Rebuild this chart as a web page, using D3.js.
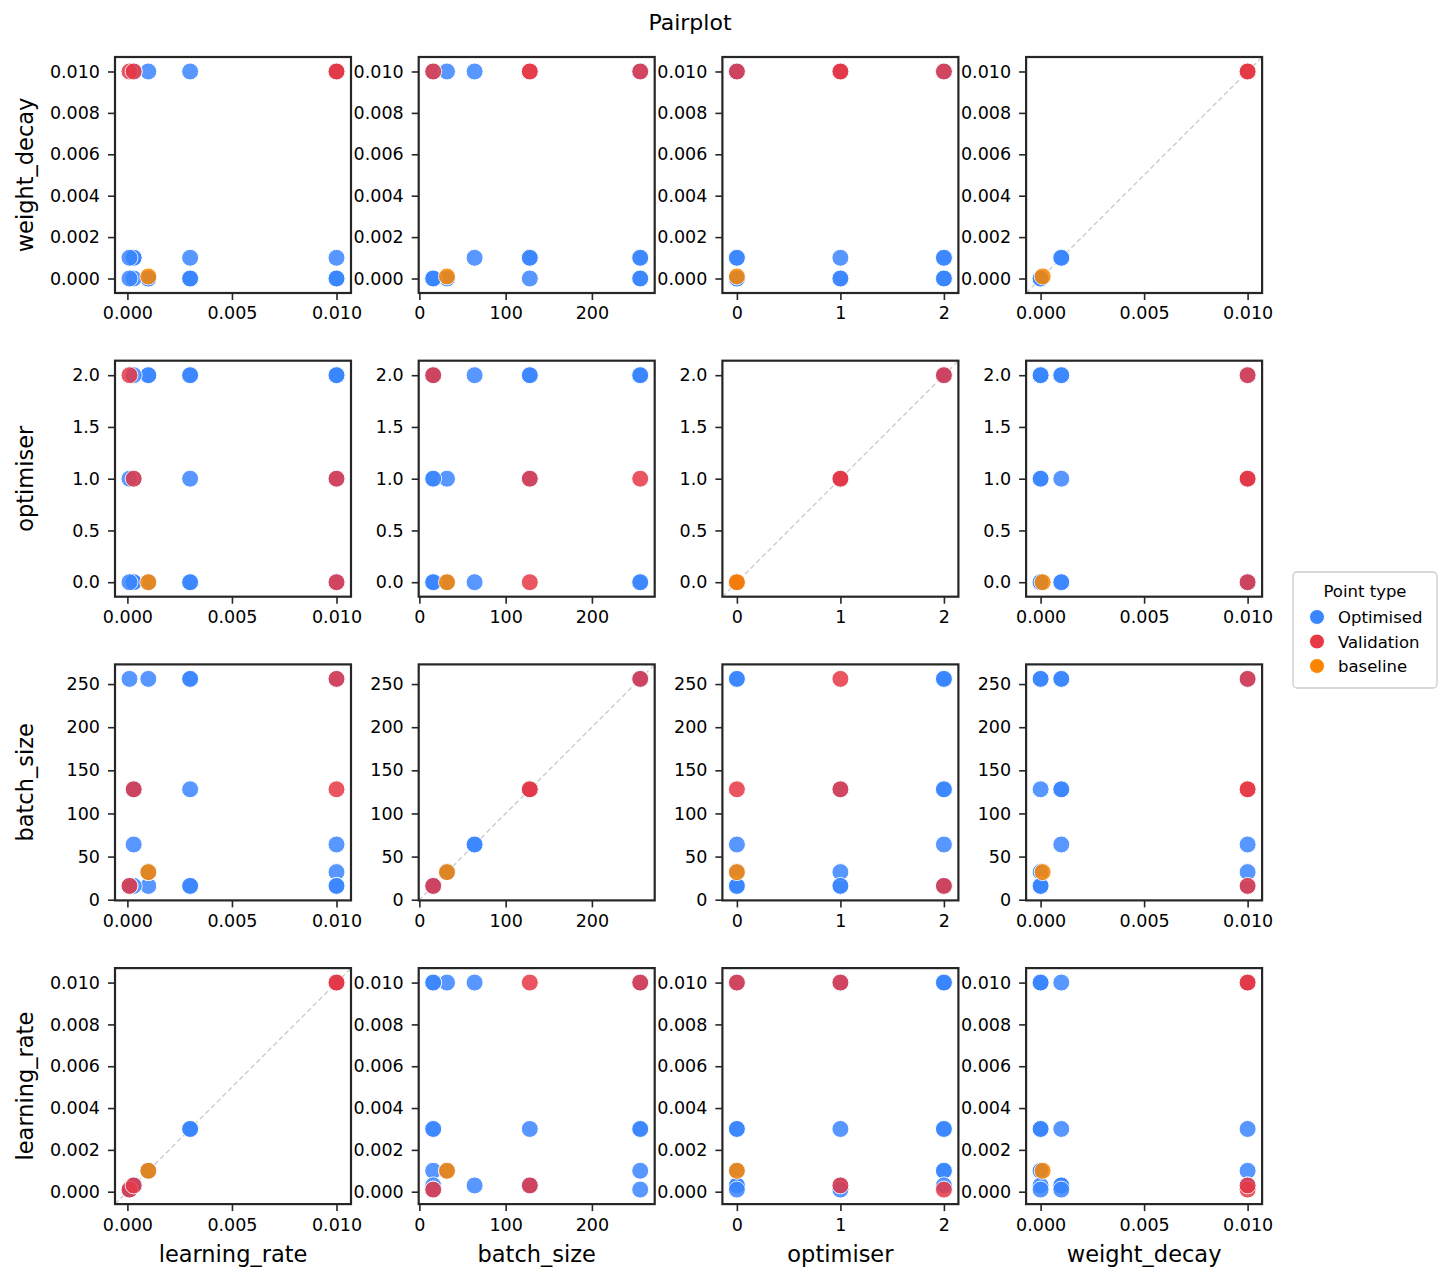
<!DOCTYPE html>
<html>
<head>
<meta charset="utf-8">
<script src="https://cdn.jsdelivr.net/npm/d3@7"></script>
<style>
  body { margin: 0; background: #fff; }
  text { font-family: "DejaVu Sans", sans-serif; fill: #000; }
</style>
</head>
<body>
<div id="chart"></div>
<script>
// columns (x) and rows (y) of the pairplot
var varsX = ["learning_rate", "batch_size", "optimiser", "weight_decay"];
var varsY = ["weight_decay", "optimiser", "batch_size", "learning_rate"];

var pointTypes = ["Optimised", "Validation", "baseline"];
var typeColors = ["#3a86ff", "#e63946", "#fb8500"];

// one entry per run (drawn in this order)
var learningRate = [0.003, 0.003, 0.0003, 0.003, 0.01, 0.01, 0.01, 0.001, 0.001, 0.001, 0.0003, 0.0003, 0.0003, 0.0001, 0.0001, 0.01, 0.01, 0.003, 0.003,
                    0.01, 0.01, 0.0001, 0.0003,
                    0.001];
var batchSize    = [128, 256, 128, 16, 64, 32, 16, 256, 16, 32, 64, 128, 16, 256, 16, 256, 16, 16, 256,
                    256, 128, 16, 128,
                    32];
var optimiser    = [2, 0, 1, 1, 2, 1, 0, 2, 2, 0, 0, 2, 0, 0, 1, 2, 2, 0, 2,
                    1, 0, 2, 1,
                    0];
var weightDecay  = [0, 0.001, 0.001, 0.01, 0.001, 0, 0, 0, 0, 0.01, 0.01, 0.001, 0, 0.001, 0, 0.01, 0, 0, 0,
                    0.01, 0.01, 0.01, 0.01,
                    0.0001];
var pointType    = ["Optimised", "Optimised", "Optimised", "Optimised", "Optimised", "Optimised", "Optimised", "Optimised",
                    "Optimised", "Optimised", "Optimised", "Optimised", "Optimised", "Optimised", "Optimised", "Optimised",
                    "Optimised", "Optimised", "Optimised",
                    "Validation", "Validation", "Validation", "Validation",
                    "baseline"];

// tick values per variable
var ticksMain = {
  learning_rate: [0, 0.005, 0.01],
  batch_size: [0, 100, 200],
  optimiser: [0, 1, 2],
  weight_decay: [0, 0.005, 0.01]
};
var ticksSide = {
  learning_rate: [0, 0.002, 0.004, 0.006, 0.008, 0.01],
  batch_size: [0, 50, 100, 150, 200, 250],
  optimiser: [0, 0.5, 1, 1.5, 2],
  weight_decay: [0, 0.002, 0.004, 0.006, 0.008, 0.01]
};
var fmtX = {learning_rate: d3.format(".3f"), batch_size: d3.format("d"), optimiser: d3.format("d"), weight_decay: d3.format(".3f")};
var fmtY = {learning_rate: d3.format(".3f"), batch_size: d3.format("d"), optimiser: d3.format(".1f"), weight_decay: d3.format(".3f")};

var rows = learningRate.map(function(d, i) {
  return {
    learning_rate: learningRate[i],
    batch_size: batchSize[i],
    optimiser: optimiser[i],
    weight_decay: weightDecay[i],
    type: pointType[i]
  };
});

var W = 1452, H = 1284;
var left0 = 115, top0 = 57, step = 303.7, size = 236;

var color = d3.scaleOrdinal().domain(pointTypes).range(typeColors);

function domainOf(v) {
  var ext = d3.extent(rows, function(d) { return d[v]; });
  var pad = (ext[1] - ext[0]) * 0.07;
  return [ext[0] - pad, ext[1] + pad];
}

var svg = d3.select('#chart').append('svg')
  .attr('width', W)
  .attr('height', H);

svg.append('text')
  .attr('x', 690)
  .attr('y', 30)
  .attr('text-anchor', 'middle')
  .attr('font-size', '22px')
  .text('Pairplot');

for (var r = 0; r < varsY.length; r++) {
  for (var c = 0; c < varsX.length; c++) {
    var vx = varsX[c], vy = varsY[r];
    var px = left0 + c * step, py = top0 + r * step;
    var x = d3.scaleLinear().domain(domainOf(vx)).range([0, size]);
    var y = d3.scaleLinear().domain(domainOf(vy)).range([size, 0]);

    var g = svg.append('g').attr('transform', 'translate(' + px + ',' + py + ')');

    // identity line where a variable meets itself
    if (vx == vy) {
      var dom = x.domain();
      g.append('line')
        .attr('x1', x(dom[0])).attr('y1', y(dom[0]))
        .attr('x2', x(dom[1])).attr('y2', y(dom[1]))
        .attr('stroke', '#cccccc')
        .attr('stroke-width', 1.4)
        .attr('stroke-dasharray', '5,3');
    }

    g.selectAll('circle')
      .data(rows)
      .enter()
      .append('circle')
      .attr('cx', function(d) { return x(d[vx]); })
      .attr('cy', function(d) { return y(d[vy]); })
      .attr('r', 8.5)
      .attr('fill', function(d) { return color(d.type); })
      .attr('stroke', '#fff')
      .attr('stroke-width', 1)
      .attr('opacity', 0.85);

    var xa = g.append('g')
      .attr('transform', 'translate(0,' + size + ')')
      .call(d3.axisBottom(x).tickValues(ticksMain[vx]).tickFormat(fmtX[vx]).tickSize(7).tickPadding(7).tickSizeOuter(0));
    var ya = g.append('g')
      .call(d3.axisLeft(y).tickValues(ticksSide[vy]).tickFormat(fmtY[vy]).tickSize(7).tickPadding(8).tickSizeOuter(0));
    [xa, ya].forEach(function(a) {
      a.select('.domain').remove();
      a.selectAll('line').attr('stroke', '#262626').attr('stroke-width', 1.6);
      a.selectAll('text').attr('font-size', '17.5px').attr('font-family', '"DejaVu Sans", sans-serif').attr('fill', '#000');
    });

    g.append('rect')
      .attr('width', size)
      .attr('height', size)
      .attr('fill', 'none')
      .attr('stroke', '#262626')
      .attr('stroke-width', 2.2);

    if (c == 0) {
      svg.append('text')
        .attr('transform', 'translate(33,' + (py + size / 2) + ') rotate(-90)')
        .attr('text-anchor', 'middle')
        .attr('font-size', '22.5px')
        .text(vy);
    }
    if (r == varsY.length - 1) {
      svg.append('text')
        .attr('x', px + size / 2)
        .attr('y', 1262)
        .attr('text-anchor', 'middle')
        .attr('font-size', '22.5px')
        .text(vx);
    }
  }
}

// legend
var lg = svg.append('g').attr('transform', 'translate(1293,572)');
lg.append('rect')
  .attr('width', 144)
  .attr('height', 116)
  .attr('rx', 4)
  .attr('fill', '#fff')
  .attr('stroke', '#cccccc')
  .attr('stroke-width', 1.3);
lg.append('text')
  .attr('x', 72)
  .attr('y', 25)
  .attr('text-anchor', 'middle')
  .attr('font-size', '16.5px')
  .text('Point type');
var items = lg.selectAll('.item')
  .data(pointTypes)
  .enter()
  .append('g')
  .attr('class', 'item')
  .attr('transform', function(d, i) { return 'translate(24,' + (45 + 24.5 * i) + ')'; });
items.append('circle')
  .attr('r', 7.5)
  .attr('fill', function(d) { return color(d); })
  .attr('stroke', '#fff')
  .attr('stroke-width', 1);
items.append('text')
  .attr('x', 21)
  .attr('y', 6)
  .attr('font-size', '16.5px')
  .text(function(d) { return d; });
</script>
</body>
</html>
